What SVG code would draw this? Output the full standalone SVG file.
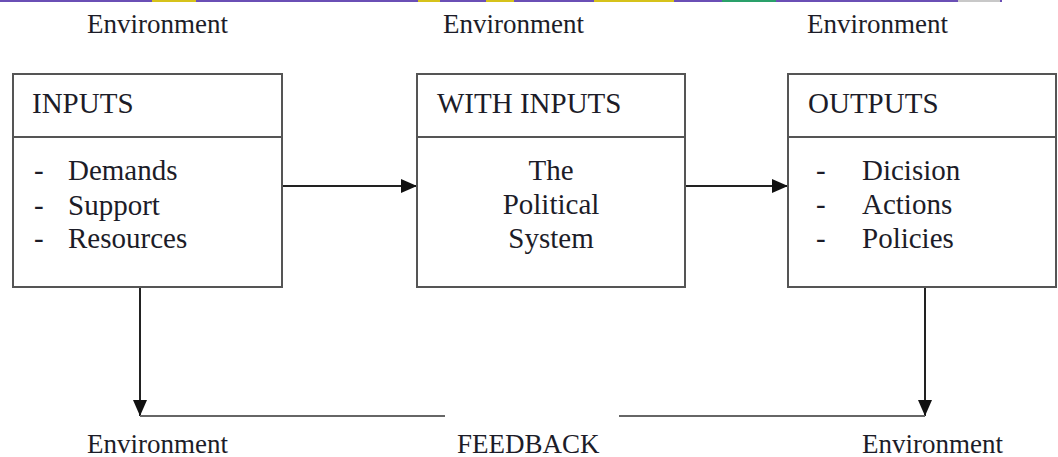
<svg xmlns="http://www.w3.org/2000/svg" width="1058" height="457" viewBox="0 0 1058 457" font-family="'Liberation Serif', 'Times New Roman', Times, serif">
<style>
  text { font-family: 'Liberation Serif', 'Times New Roman', Times, serif; fill: #1c1c28; }
  .env { font-size: 27px; }
  .hdr { font-size: 29px; }
  .body { font-size: 29px; }
  .box { fill: #ffffff; stroke: #555555; stroke-width: 2; }
  .div { stroke: #555555; stroke-width: 2; }
  .conn { stroke: #222222; stroke-width: 2; fill: none; }
  .fb { stroke: #666666; stroke-width: 2.2; fill: none; }
</style>
<defs>
  <marker id="ah" viewBox="0 0 16 14" refX="16" refY="7" markerWidth="16" markerHeight="14" markerUnits="userSpaceOnUse" orient="auto">
    <path d="M0,0 L16,7 L0,14 Z" fill="#111111"/>
  </marker>
</defs>
<rect width="1058" height="457" fill="#ffffff"/>
<g id="topstrip">
  <rect x="0" y="0" width="1002" height="2" fill="#6a4fb5"/>
  <rect x="152" y="0" width="44" height="2" fill="#d6c21a"/>
  <rect x="418" y="0" width="22" height="2" fill="#d6c21a"/>
  <rect x="486" y="0" width="28" height="2" fill="#d6c21a"/>
  <rect x="594" y="0" width="80" height="2" fill="#d6c21a"/>
  <rect x="722" y="0" width="54" height="2" fill="#2aa06a"/>
  <rect x="958" y="0" width="42" height="2" fill="#c8c8c8"/>
</g>
<g id="labels">
  <text class="env" x="87" y="33">Environment</text>
  <text class="env" x="443" y="33">Environment</text>
  <text class="env" x="807" y="33">Environment</text>
  <text class="env" x="87" y="453">Environment</text>
  <text class="env" x="457" y="453">FEEDBACK</text>
  <text class="env" x="862" y="453">Environment</text>
</g>
<g id="connectors">
  <line class="conn" x1="282" y1="186" x2="417" y2="186" marker-end="url(#ah)"/>
  <line class="conn" x1="685" y1="186" x2="788" y2="186" marker-end="url(#ah)"/>
  <line class="conn" x1="140" y1="287" x2="140" y2="416" stroke-width="1.6" marker-end="url(#ah)"/>
  <line class="conn" x1="925" y1="287" x2="925" y2="416" stroke-width="1.6" marker-end="url(#ah)"/>
  <line class="fb" x1="140" y1="416" x2="445" y2="416"/>
  <line class="fb" x1="619" y1="416" x2="925" y2="416"/>
</g>
<g id="inputs">
  <rect class="box" x="13" y="74" width="269" height="213"/>
  <line class="div" x1="13" y1="137" x2="282" y2="137"/>
  <text class="hdr" x="32" y="113">INPUTS</text>
  <text class="body" x="34" y="180">-</text>
  <text class="body" x="68" y="180">Demands</text>
  <text class="body" x="34" y="215">-</text>
  <text class="body" x="68" y="215">Support</text>
  <text class="body" x="34" y="248">-</text>
  <text class="body" x="68" y="248">Resources</text>
</g>
<g id="system">
  <rect class="box" x="417" y="74" width="268" height="213"/>
  <line class="div" x1="417" y1="137" x2="685" y2="137"/>
  <text class="hdr" x="437" y="113">WITH INPUTS</text>
  <text class="body" x="551" y="180" text-anchor="middle">The</text>
  <text class="body" x="551" y="214" text-anchor="middle">Political</text>
  <text class="body" x="551" y="248" text-anchor="middle">System</text>
</g>
<g id="outputs">
  <rect class="box" x="788" y="74" width="268" height="213"/>
  <line class="div" x1="788" y1="137" x2="1056" y2="137"/>
  <text class="hdr" x="808" y="113">OUTPUTS</text>
  <text class="body" x="816" y="180">-</text>
  <text class="body" x="862" y="180">Dicision</text>
  <text class="body" x="816" y="214">-</text>
  <text class="body" x="862" y="214">Actions</text>
  <text class="body" x="816" y="248">-</text>
  <text class="body" x="862" y="248">Policies</text>
</g>
</svg>
